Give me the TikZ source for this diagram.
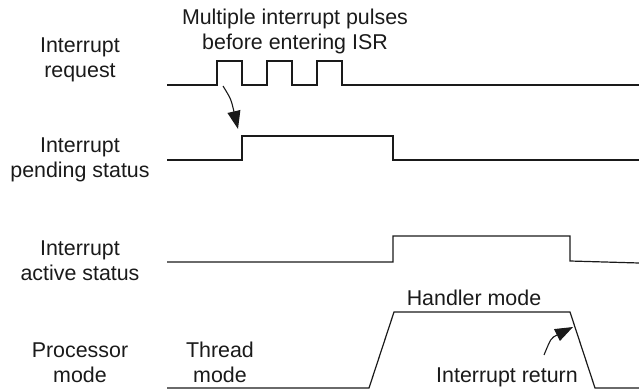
\documentclass[tikz,border=0pt]{standalone}
\usepackage{fontspec}
\setmainfont{Liberation Sans}
\usetikzlibrary{arrows.meta}
\definecolor{Ink}{HTML}{1A1A1A}

\begin{document}
\begin{tikzpicture}[x=1pt, y=-1pt,
  lbl/.style={align=center, inner sep=0pt, anchor=base, text=Ink,
              font=\fontsize{21.4}{25}\selectfont},
  wave/.style={draw=Ink, line width=1.2pt, line join=miter},
  arr/.style={-{Triangle[length=18pt,width=13pt]}, draw=Ink, line width=1.1pt}]
  \useasboundingbox (0,0) rectangle (639,390);
  % signal names
  \node[lbl] (lblirq) at (80,78) {Interrupt\\request};
  \node[lbl] (lblpend) at (80,178) {Interrupt\\pending status};
  \node[lbl] (lblact) at (80,280) {Interrupt\\active status};
  \node[lbl] (lblmode) at (80,382) {Processor\\mode};
  % notes
  \node[lbl] (pulses) at (295,50) {Multiple interrupt pulses\\before entering ISR};
  \node[lbl] (thread) at (220,382) {Thread\\mode};
  \node[lbl] (handler) at (474,305) {Handler mode};
  \node[lbl] (iret) at (507,382) {Interrupt return};
  % waveforms
  \draw[wave] (167,85)
    \foreach \x in {217,267,317} { -- (\x,85) -- (\x,61) -- (\x+25,61) -- (\x+25,85) }
    -- (639,85);
  \draw[wave] (167,160) -- (242,160) -- (242,136) -- (393,136) -- (393,160) -- (639,160);
  \draw[wave] (167,262) -- (393,262) -- (393,236) -- (570,236) -- (570,261) -- (639,263);
  \draw[wave] (167,388) -- (369,388) -- (394,312) -- (570,312) -- (595,388) -- (639,388);
  % arrows
  \coordinate (irqedge) at (223,86);
  \coordinate (pendedge) at (238,129);
  \coordinate (retfrom) at (544,355);
  \coordinate (retedge) at (573,327);
  \draw[arr] (irqedge) .. controls (231,99) .. (pendedge);
  \draw[arr] (retfrom) .. controls (551,338) .. (retedge);
\end{tikzpicture}
\end{document}
